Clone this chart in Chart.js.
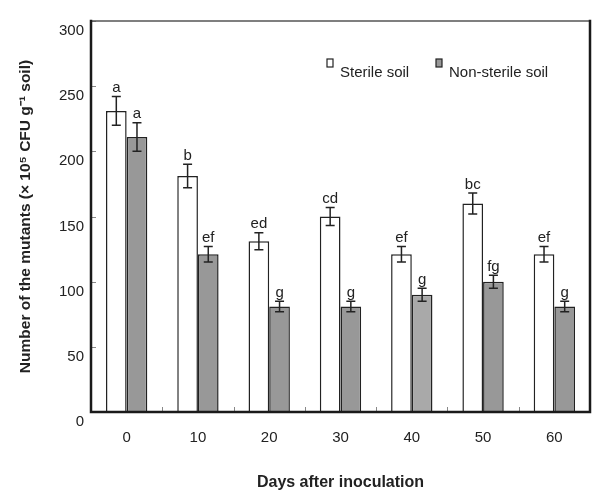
<!DOCTYPE html>
<html lang="en">
<head>
    <meta charset="UTF-8">
    <title>Number of the mutants</title>
    <style>
        body { margin: 0; background: #fff; }
        #wrap { width: 612px; height: 493px; }
    </style>
</head>
<body>
    <div id="wrap">
        <canvas id="barChart" width="612" height="493"></canvas>
    </div>

    <script src="https://cdn.jsdelivr.net/npm/chart.js@4.4.0/dist/chart.umd.min.js"></script>

    <script>
    // values
    const days = ['0', '10', '20', '30', '40', '50', '60'];
    const sterile = [231, 181, 131, 150, 121, 160, 121];
    const sterileErr = [11, 9, 6.5, 7, 6, 8, 6];
    const sterileLetters = ['a', 'b', 'ed', 'cd', 'ef', 'bc', 'ef'];
    const nonSterile = [211, 121, 81, 81, 90, 100, 81];
    const nonSterileErr = [11, 6, 4, 4, 5, 5, 4];
    const nonSterileLetters = ['a', 'ef', 'g', 'g', 'g', 'fg', 'g'];
    const yMin = 0, yMax = 300, yStep = 50;

    const FONT = '"Liberation Sans", Arial, sans-serif';
    const INK = '#222';

    const greys = nonSterile.map((v, i) => i === 4 ? '#a9a9a9' : '#989898');

    // error bars, letters, legend, frame and small tick marks
    const decorations = {
        id: 'decorations',
        afterDatasetsDraw(chart) {
            const ctx = chart.ctx;
            const y = chart.scales.y;
            const area = chart.chartArea;
            const errs = [sterileErr, nonSterileErr];
            const letters = [sterileLetters, nonSterileLetters];

            ctx.save();
            ctx.strokeStyle = INK;
            ctx.fillStyle = INK;
            ctx.lineWidth = 1.5;
            ctx.font = '15px ' + FONT;
            ctx.textAlign = 'center';
            ctx.textBaseline = 'bottom';
            chart.data.datasets.forEach((ds, di) => {
                const meta = chart.getDatasetMeta(di);
                meta.data.forEach((bar, i) => {
                    const v = ds.data[i];
                    const e = errs[di][i];
                    const top = y.getPixelForValue(v + e);
                    const bot = y.getPixelForValue(v - e);
                    const cx = bar.x;
                    ctx.beginPath();
                    ctx.moveTo(cx, top); ctx.lineTo(cx, bot);
                    ctx.moveTo(cx - 4.5, top); ctx.lineTo(cx + 4.5, top);
                    ctx.moveTo(cx - 4.5, bot); ctx.lineTo(cx + 4.5, bot);
                    ctx.stroke();
                    ctx.fillText(letters[di][i], cx, top - 1);
                });
            });

            // small inside ticks
            ctx.strokeStyle = '#888';
            ctx.lineWidth = 1;
            y.ticks.forEach(t => {
                const py = Math.round(y.getPixelForValue(t.value)) + 0.5;
                ctx.beginPath();
                ctx.moveTo(area.left, py); ctx.lineTo(area.left + 5, py);
                ctx.stroke();
            });
            const step = (area.right - area.left) / days.length;
            for (let i = 1; i < days.length; i++) {
                const px = Math.round(area.left + step * i) + 0.5;
                ctx.beginPath();
                ctx.moveTo(px, area.bottom); ctx.lineTo(px, area.bottom - 5);
                ctx.stroke();
            }

            // frame
            ctx.lineCap = 'square';
            ctx.strokeStyle = '#555';
            ctx.lineWidth = 1.5;
            ctx.beginPath();
            ctx.moveTo(area.left, area.top); ctx.lineTo(area.right, area.top);
            ctx.stroke();
            ctx.strokeStyle = '#1a1a1a';
            ctx.lineWidth = 2.5;
            ctx.beginPath();
            ctx.moveTo(area.right, area.top); ctx.lineTo(area.right, area.bottom);
            ctx.lineTo(area.left, area.bottom); ctx.lineTo(area.left, area.top);
            ctx.stroke();

            // legend
            ctx.font = '15px ' + FONT;
            ctx.textAlign = 'left';
            ctx.textBaseline = 'alphabetic';
            ctx.lineWidth = 1.2;
            ctx.strokeStyle = INK;
            const items = [
                { x: 327, label: chart.data.datasets[0].label, fill: '#fff' },
                { x: 436, label: chart.data.datasets[1].label, fill: '#989898' }
            ];
            items.forEach(it => {
                ctx.fillStyle = it.fill;
                ctx.fillRect(it.x, 59, 6, 8);
                ctx.strokeRect(it.x, 59, 6, 8);
                ctx.fillStyle = INK;
                ctx.fillText(it.label, it.x + 13, 77);
            });
            ctx.restore();
        }
    };

    new Chart(document.getElementById('barChart').getContext('2d'), {
        type: 'bar',
        data: {
            labels: days,
            datasets: [{
                label: 'Sterile soil',
                data: sterile,
                backgroundColor: '#fff',
                borderColor: INK,
                borderWidth: 1.5
            }, {
                label: 'Non-sterile soil',
                data: nonSterile,
                backgroundColor: greys,
                borderColor: INK,
                borderWidth: 1.5
            }]
        },
        options: {
            responsive: false,
            animation: false,
            events: [],
            layout: { padding: { top: 21, right: 22, left: 0, bottom: 0 } },
            datasets: { bar: { categoryPercentage: 0.58, barPercentage: 1 } },
            plugins: {
                legend: { display: false },
                tooltip: { enabled: false }
            },
            scales: {
                x: {
                    grid: { display: false, drawTicks: false },
                    border: { display: false },
                    ticks: { color: INK, font: { family: FONT, size: 15 }, padding: 17 },
                    title: {
                        display: true,
                        text: 'Days after inoculation',
                        color: INK,
                        font: { family: FONT, size: 16, weight: 'bold' },
                        padding: { top: 0, bottom: 1 }
                    },
                    afterFit(s) { s.height = 81; }
                },
                y: {
                    min: yMin,
                    max: yMax,
                    grid: { display: false, drawTicks: false },
                    border: { display: false },
                    ticks: {
                        stepSize: yStep,
                        color: INK,
                        font: { family: FONT, size: 15 },
                        padding: 7,
                        labelOffset: 10
                    },
                    title: {
                        display: true,
                        text: 'Number of the mutants (× 10⁵ CFU g⁻¹ soil)',
                        color: INK,
                        font: { family: FONT, size: 15.5, weight: 'bold' },
                        padding: { top: 16, bottom: 0 }
                    },
                    afterFit(s) { s.width = 91; }
                }
            }
        },
        plugins: [decorations]
    });
    </script>
</body>
</html>
